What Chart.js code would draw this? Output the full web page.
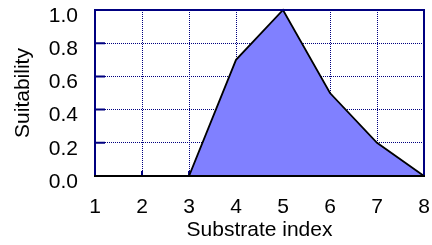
<!DOCTYPE html>
<html>
<head>
<meta charset="utf-8">
<script src="https://cdn.jsdelivr.net/npm/chart.js"></script>
<style>
  html, body { margin: 0; padding: 0; background: #fff; }
  #wrap { width: 432px; height: 245px; }
</style>
</head>
<body>
<div id="wrap"><canvas id="suitChart" width="432" height="245"></canvas></div>
<script>
// chart values
const substrateIdx = ['1', '2', '3', '4', '5', '6', '7', '8'];
const suitability = [0, 0, 0, 0.7, 1.0, 0.5, 0.2, 0];
const yTicks = [0, 0.2, 0.4, 0.6, 0.8, 1.0];

const NAVY = '#000080';

// frame + small inner tick marks, like the original plot
const framePlugin = {
    id: 'frame',
    beforeDatasetsDraw(chart) {
        const { ctx, chartArea: a, scales } = chart;
        ctx.save();
        ctx.strokeStyle = NAVY;
        ctx.lineWidth = 2;
        ctx.beginPath();
        yTicks.forEach(v => {
            const y = scales.y.getPixelForValue(v);
            ctx.moveTo(a.left, y);
            ctx.lineTo(a.left + 10, y);
        });
        substrateIdx.forEach((lab, i) => {
            const x = scales.x.getPixelForValue(i);
            ctx.moveTo(x, a.bottom);
            ctx.lineTo(x, a.bottom - 5);
        });
        ctx.stroke();
        ctx.restore();
    },
    afterDatasetsDraw(chart) {
        const { ctx, chartArea: a } = chart;
        ctx.save();
        ctx.strokeStyle = NAVY;
        ctx.lineWidth = 2;
        ctx.beginPath();
        ctx.moveTo(a.left, a.bottom);
        ctx.lineTo(a.left, a.top);
        ctx.lineTo(a.right, a.top);
        ctx.lineTo(a.right, a.bottom);
        ctx.stroke();
        ctx.strokeStyle = '#000';
        ctx.lineWidth = 2;
        ctx.beginPath();
        ctx.moveTo(a.left - 1, a.bottom);
        ctx.lineTo(a.right + 1, a.bottom);
        ctx.stroke();
        ctx.restore();
    }
};

const font = { family: '"Liberation Sans", Arial, sans-serif', size: 21 };

new Chart(document.getElementById('suitChart'), {
    type: 'line',
    data: {
        labels: substrateIdx,
        datasets: [{
            data: suitability,
            fill: 'origin',
            backgroundColor: '#8080ff',
            borderColor: '#000',
            borderWidth: 1.8,
            pointRadius: 0,
            tension: 0,
            clip: false
        }]
    },
    options: {
        responsive: false,
        animation: false,
        layout: { padding: { left: 0, right: 8, top: 10, bottom: 0 } },
        plugins: { legend: { display: false }, tooltip: { enabled: false } },
        scales: {
            x: {
                offset: false,
                afterFit: s => {
                    s.height = 69;
                    s.paddingLeft = 0;
                    s.paddingRight = 0;
                },
                grid: { color: NAVY, lineWidth: 1, drawTicks: false },
                border: { display: false, dash: [1, 1] },
                ticks: { color: '#000', font: font, padding: 19, maxRotation: 0 },
                title: { display: true, text: 'Substrate index', color: '#000', font: font, padding: { top: 0, bottom: 2 } }
            },
            y: {
                min: 0,
                max: 1,
                afterFit: s => {
                    s.width = 95;
                    s.paddingTop = 0;
                    s.paddingBottom = 0;
                },
                afterBuildTicks: s => { s.ticks = yTicks.map(v => ({ value: v })); },
                grid: { color: NAVY, lineWidth: 1, drawTicks: false },
                border: { display: false, dash: [1, 1] },
                ticks: {
                    color: '#000',
                    font: font,
                    padding: 17,
                    labelOffset: 6,
                    callback: v => v.toFixed(1)
                },
                title: { display: true, text: 'Suitability', color: '#000', font: font, padding: { top: 11, bottom: 0 } }
            }
        }
    },
    plugins: [framePlugin]
});
</script>
</body>
</html>
